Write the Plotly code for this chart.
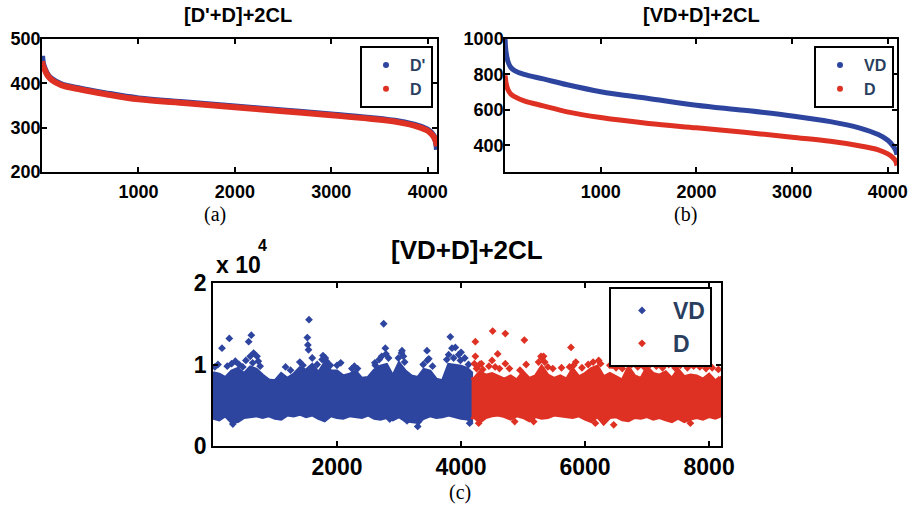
import plotly.graph_objects as go

W, H = 916, 510
BLUE = "#2E45A0"
RED = "#DE3124"
SANS = "Liberation Sans"
SERIF = "Liberation Serif"

# panel (a) and (b): sorted curves, read at these sample indices
idx = [1, 10, 30, 60, 100, 200, 400, 650, 1000, 1500, 2000, 2500, 3000, 3400, 3700, 3900, 4000, 4050, 4080, 4096]
a_dprime = [462, 445, 432, 419, 410, 398, 388, 378, 366, 357, 348, 339, 330, 322, 314, 304, 295, 285, 272, 250]
a_d = [450, 440, 430, 417, 408, 396, 386, 376, 364, 355, 346, 337, 328, 320, 312, 302, 293, 283, 272, 258]
b_vd = [1000, 930, 875, 840, 822, 800, 775, 742, 703, 665, 627, 598, 566, 534, 499, 461, 429, 400, 375, 347]
b_d = [795, 755, 715, 690, 675, 651, 623, 589, 557, 524, 499, 474, 446, 423, 398, 375, 352, 333, 314, 286]

# panel (c): dense body (lower / upper edge, x 10^4) plus the points that stick out
c_vd_x = [0, 100, 200, 300, 400, 500, 600, 700, 800, 900, 1000, 1100, 1200, 1300, 1400, 1500, 1600,
          1700, 1800, 1900, 2000, 2100, 2200, 2300, 2400, 2500, 2600, 2700, 2800, 2900, 3000, 3100,
          3200, 3300, 3400, 3500, 3600, 3700, 3800, 3900, 4000, 4100, 4170]
c_vd_hi = [0.90, 0.88, 0.84, 0.92, 0.95, 0.89, 0.97, 0.94, 0.87, 0.81, 0.80, 0.89, 0.83, 0.88, 0.96, 0.93,
           1.00, 0.90, 1.02, 0.92, 0.92, 0.86, 0.88, 0.92, 0.83, 0.84, 0.93, 0.98, 1.00, 0.86, 1.02, 0.92,
           0.86, 0.84, 0.94, 0.92, 0.82, 0.80, 1.00, 0.99, 0.98, 0.95, 0.90]
c_vd_lo = [0.34, 0.32, 0.37, 0.29, 0.30, 0.35, 0.36, 0.37, 0.35, 0.37, 0.34, 0.33, 0.38, 0.37, 0.39, 0.36,
           0.38, 0.34, 0.31, 0.37, 0.35, 0.34, 0.37, 0.36, 0.35, 0.38, 0.34, 0.33, 0.35, 0.32, 0.36, 0.31,
           0.30, 0.29, 0.34, 0.37, 0.35, 0.36, 0.38, 0.36, 0.34, 0.33, 0.31]
c_vd_out_x = [145, 263, 360, 575, 618, 655, 709, 1521, 1530, 1548, 1540, 1774, 1811, 1892, 2240, 2617,
              2752, 2779, 2790, 3048, 3040, 3090, 3451, 3455, 3827, 3854, 3908, 3962, 3301, 3317, 3129,
              2850, 4139, 320,
              30, 80, 230, 300, 420, 480, 530, 600, 640, 730, 760, 1170, 1250, 1400, 1450, 1600, 1680,
              1760, 1830, 1870, 2000, 2060, 2280, 2330, 2610, 2680, 2720, 2830, 2990, 3070, 3390, 3480,
              3540, 3770, 3800, 3880, 3990, 4060, 4120, 4000]
c_vd_out_y = [1.20, 1.32, 1.04, 1.28, 1.36, 1.14, 1.10, 1.33, 1.24, 1.55, 1.18, 1.11, 1.08, 0.99, 0.95, 0.99,
              1.50, 1.20, 1.13, 1.17, 1.14, 1.03, 1.17, 1.05, 1.34, 1.20, 1.21, 1.12, 0.24, 0.30, 0.31,
              0.33, 0.28, 0.27,
              0.97, 1.00, 0.98, 1.01, 1.00, 0.97, 1.05, 1.10, 1.02, 1.04, 0.98, 0.97, 0.93, 1.03, 0.99, 1.08,
              1.00, 1.06, 1.04, 1.00, 0.99, 1.02, 0.98, 0.95, 1.02, 1.06, 1.10, 1.08, 1.08, 1.10, 1.00, 1.07,
              0.98, 1.06, 1.12, 1.08, 1.05, 1.08, 1.00, 1.15]

c_d_x = [4170, 4200, 4300, 4400, 4500, 4600, 4700, 4800, 4900, 5000, 5100, 5200, 5300, 5400, 5500, 5600,
         5700, 5800, 5900, 6000, 6100, 6200, 6300, 6400, 6500, 6600, 6700, 6800, 6900, 7000, 7100, 7200,
         7300, 7400, 7500, 7600, 7700, 7800, 7900, 8000, 8100, 8192]
c_d_hi = [0.84, 0.82, 0.91, 0.87, 0.89, 0.85, 0.82, 0.86, 0.81, 0.91, 0.83, 0.86, 0.98, 0.87, 0.83, 0.86,
          0.82, 0.95, 0.85, 0.89, 0.95, 0.98, 0.85, 0.89, 0.85, 0.81, 0.97, 0.86, 0.83, 0.97, 0.89, 0.87,
          0.91, 0.83, 0.94, 0.85, 0.87, 0.86, 0.82, 0.88, 0.80, 0.84]
c_d_lo = [0.33, 0.36, 0.29, 0.35, 0.37, 0.38, 0.36, 0.33, 0.37, 0.35, 0.31, 0.36, 0.34, 0.35, 0.38, 0.37,
          0.36, 0.35, 0.37, 0.33, 0.30, 0.36, 0.27, 0.35, 0.36, 0.32, 0.31, 0.35, 0.34, 0.36, 0.33, 0.35,
          0.32, 0.30, 0.34, 0.30, 0.33, 0.35, 0.33, 0.36, 0.34, 0.37]
c_d_out_x = [4231, 4231, 4215, 4327, 4510, 4714, 4591, 4500, 4714, 5021, 5306, 5349, 5773, 5816, 6220,
             6435, 6704, 7026, 7537, 8155, 4284, 4865, 5171, 6166, 6462, 7698,
             4250, 4300, 4350, 4450, 4550, 4620, 4780, 4950, 5050, 5250, 5290, 5330, 5400, 5480, 5620,
             5750, 5850, 5950, 6050, 6130, 6250, 6400, 6500, 6600, 6680, 6750, 6850, 6950, 7050, 7150,
             7250, 7350, 7450, 7560, 7650, 7750, 7850, 7950, 8050, 8150]
c_d_out_y = [1.28, 1.10, 1.01, 1.01, 1.41, 1.38, 1.13, 1.05, 1.01, 1.30, 1.08, 1.03, 1.21, 0.99, 1.05,
             0.99, 1.03, 1.03, 0.99, 0.81, 0.28, 0.30, 0.30, 0.28, 0.26, 0.28,
             0.95, 1.00, 0.94, 0.98, 0.97, 0.95, 0.95, 0.93, 1.00, 1.03, 1.10, 1.10, 0.97, 0.95, 0.96,
             0.97, 1.03, 0.96, 1.00, 1.03, 1.01, 0.99, 0.96, 0.95, 1.05, 1.00, 0.97, 0.97, 1.00, 0.98,
             0.96, 1.00, 0.96, 1.02, 0.96, 0.98, 0.97, 0.95, 0.96, 0.94]

fig = go.Figure()

# (a)
fig.add_trace(go.Scatter(x=idx, y=a_dprime, mode="lines", line=dict(color=BLUE, width=6, shape="spline"),
                         showlegend=False, xaxis="x", yaxis="y"))
fig.add_trace(go.Scatter(x=idx, y=a_d, mode="lines", line=dict(color=RED, width=6, shape="spline"),
                         showlegend=False, xaxis="x", yaxis="y"))
fig.add_trace(go.Scatter(x=[None], y=[None], mode="markers", name="D'", marker=dict(color=BLUE, size=6),
                         legend="legend", xaxis="x", yaxis="y"))
fig.add_trace(go.Scatter(x=[None], y=[None], mode="markers", name="D", marker=dict(color=RED, size=6),
                         legend="legend", xaxis="x", yaxis="y"))

# (b)
fig.add_trace(go.Scatter(x=idx, y=b_vd, mode="lines", line=dict(color=BLUE, width=5, shape="spline"),
                         showlegend=False, xaxis="x2", yaxis="y2"))
fig.add_trace(go.Scatter(x=idx, y=b_d, mode="lines", line=dict(color=RED, width=5, shape="spline"),
                         showlegend=False, xaxis="x2", yaxis="y2"))
fig.add_trace(go.Scatter(x=[None], y=[None], mode="markers", name="VD", marker=dict(color=BLUE, size=6),
                         legend="legend2", xaxis="x2", yaxis="y2"))
fig.add_trace(go.Scatter(x=[None], y=[None], mode="markers", name="D", marker=dict(color=RED, size=6),
                         legend="legend2", xaxis="x2", yaxis="y2"))

# (c)
for xs, hi, lo, ox, oy, col, nm in [(c_vd_x, c_vd_hi, c_vd_lo, c_vd_out_x, c_vd_out_y, BLUE, "VD"),
                                    (c_d_x, c_d_hi, c_d_lo, c_d_out_x, c_d_out_y, RED, "D")]:
    fig.add_trace(go.Scatter(x=xs + xs[::-1], y=hi + lo[::-1], mode="lines", fill="toself", fillcolor=col,
                             line=dict(color=col, width=3), showlegend=False, xaxis="x3", yaxis="y3"))
    fig.add_trace(go.Scatter(x=ox, y=oy, mode="markers", name=nm,
                             marker=dict(color=col, size=6, symbol="diamond"),
                             legend="legend3", xaxis="x3", yaxis="y3"))

axis_common = dict(showline=True, linecolor="black", linewidth=1.5, mirror="ticks", ticks="inside",
                   ticklen=5, tickwidth=1.5, tickcolor="black", showgrid=False, zeroline=False,
                   automargin=False)
f18 = dict(family=SANS, size=18, color="black", weight="bold")
f23 = dict(family=SANS, size=23, color="black", weight="bold")

def ydom(top, bot):
    return [1 - bot / H, 1 - top / H]

fig.update_layout(
    width=W, height=H, margin=dict(l=0, r=0, t=0, b=0, autoexpand=False),
    paper_bgcolor="white", plot_bgcolor="white",
    xaxis=dict(domain=[42 / W, 437 / W], range=[0, 4096], tickvals=[1000, 2000, 3000, 4000],
               anchor="y", tickfont=f18, ticklabelstandoff=3, **axis_common),
    yaxis=dict(domain=ydom(39, 172), range=[200, 500], tickvals=[200, 300, 400, 500],
               anchor="x", tickfont=f18, ticklabelstandoff=-4, **axis_common),
    xaxis2=dict(domain=[505 / W, 897 / W], range=[0, 4096], tickvals=[1000, 2000, 3000, 4000],
                anchor="y2", tickfont=f18, ticklabelstandoff=3, **axis_common),
    yaxis2=dict(domain=ydom(39, 172), range=[250, 1000], tickvals=[400, 600, 800, 1000],
                anchor="x2", tickfont=f18, ticklabelstandoff=-4, **axis_common),
    xaxis3=dict(domain=[213 / W, 721 / W], range=[0, 8192], tickvals=[2000, 4000, 6000, 8000],
                anchor="y3", tickfont=f23, **axis_common),
    yaxis3=dict(domain=ydom(283, 446), range=[0, 2], tickvals=[0, 1, 2],
                anchor="x3", tickfont=f23, **axis_common),
    legend=dict(x=360 / W, y=1 - 46 / H, xanchor="left", yanchor="top", bordercolor="black",
                borderwidth=2, bgcolor="white", itemwidth=38, font=dict(family=SANS, size=16, weight="bold")),
    legend2=dict(x=814 / W, y=1 - 46 / H, xanchor="left", yanchor="top", bordercolor="black",
                 borderwidth=2, bgcolor="white", itemwidth=38, font=dict(family=SANS, size=16, weight="bold")),
    legend3=dict(x=609 / W, y=1 - 287 / H, xanchor="left", yanchor="top", bordercolor="black",
                 borderwidth=2, bgcolor="white", itemwidth=52, font=dict(family=SANS, size=23, weight="bold")),
)

ann = [
    ("[D'+D]+2CL", 238, 15, 20, SANS, True),
    ("[VD+D]+2CL", 701, 15, 20, SANS, True),
    ("[VD+D]+2CL", 467, 250, 26, SANS, True),
    ("(a)", 215, 214, 20, SERIF, False),
    ("(b)", 685, 214, 20, SERIF, False),
    ("(c)", 460, 492, 20, SERIF, False),
    ("x 10", 238, 265, 23, SANS, True),
    ("4", 262, 245, 16, SANS, True),
]
for txt, px, py, sz, fam, bold in ann:
    fig.add_annotation(text=txt, x=px / W, y=1 - py / H, xref="paper", yref="paper", showarrow=False,
                       xanchor="center", yanchor="middle",
                       font=dict(family=fam, size=sz, color="black", weight="bold" if bold else "normal"))

# page body has a default 8px margin; drop it so the figure sits at the window origin
fig.write_html("out.html", config={"displayModeBar": False},
               post_script="document.body.style.margin='0';")
